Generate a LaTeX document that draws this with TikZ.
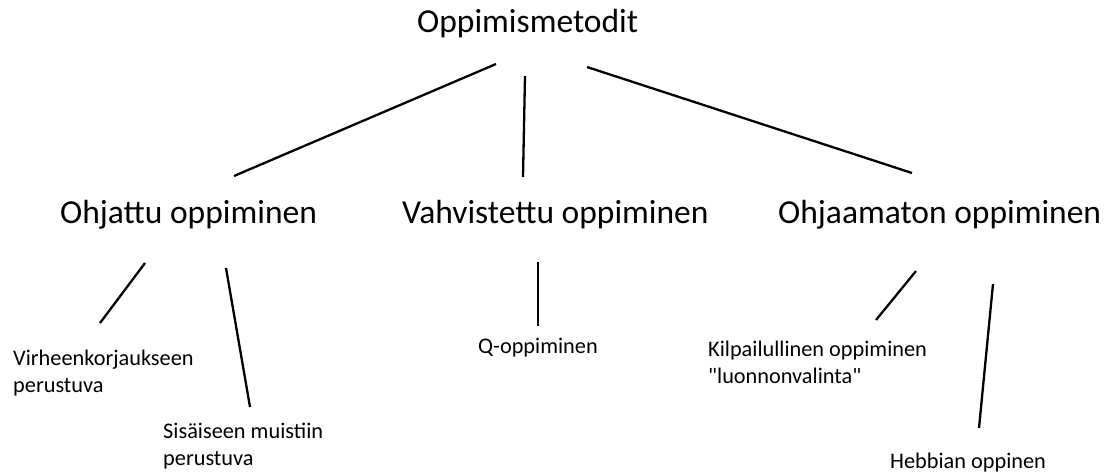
\documentclass[tikz,border=0pt]{standalone}
\usepackage{fontspec}
\setmainfont{Carlito}[Ligatures=TeXOff]
\begin{document}
\begin{tikzpicture}[x=1pt,y=-1pt,
  big/.style={anchor=base west,inner sep=0pt,font=\fontsize{33.5}{40}\selectfont},
  small/.style={anchor=base west,inner sep=0pt,align=left,font=\fontsize{22.3}{26.5}\selectfont},
  branch/.style={line width=2.3pt,black}]
\useasboundingbox (0,0) rectangle (1114,474);

% level 1
\node[big] (root) at (417,32) {Oppimismetodit};

% level 2
\node[big] (ohj) at (60,223) {Ohjattu oppiminen};
\node[big] (vah) at (402,223) {Vahvistettu oppiminen};
\node[big] (oha) at (778,223) {Ohjaamaton oppiminen};

% level 3 (base anchor sits on the last line of a two-line label)
\node[small] (vir) at (13,392) {Virheenkorjaukseen\\perustuva};
\node[small] (sis) at (163,465) {Sisäiseen muistiin\\perustuva};
\node[small] (qop) at (478,353) {Q-oppiminen};
\node[small] (kil) at (708,383) {Kilpailullinen oppiminen\\"luonnonvalinta"};
\node[small] (heb) at (890,468) {Hebbian oppinen};

% free-standing stroke end points
\coordinate (r1) at (496,64);   \coordinate (o1) at (234,176);
\coordinate (r2) at (525,76);   \coordinate (v1) at (523,177);
\coordinate (r3) at (587,67);   \coordinate (h1) at (912,173);

\coordinate (o2) at (145,263);  \coordinate (vi) at (100,323);
\coordinate (o3) at (226,268);  \coordinate (si) at (250,407);
\coordinate (v2) at (538,262);  \coordinate (qo) at (538,326);
\coordinate (h2) at (916,271);  \coordinate (ki) at (876,320);
\coordinate (h3) at (993,284);  \coordinate (he) at (979,428);

\draw[branch] (r1) -- (o1);
\draw[branch] (r2) -- (v1);
\draw[branch] (r3) -- (h1);
\draw[branch] (o2) -- (vi);
\draw[branch] (o3) -- (si);
\draw[branch] (v2) -- (qo);
\draw[branch] (h2) -- (ki);
\draw[branch] (h3) -- (he);
\end{tikzpicture}
\end{document}
